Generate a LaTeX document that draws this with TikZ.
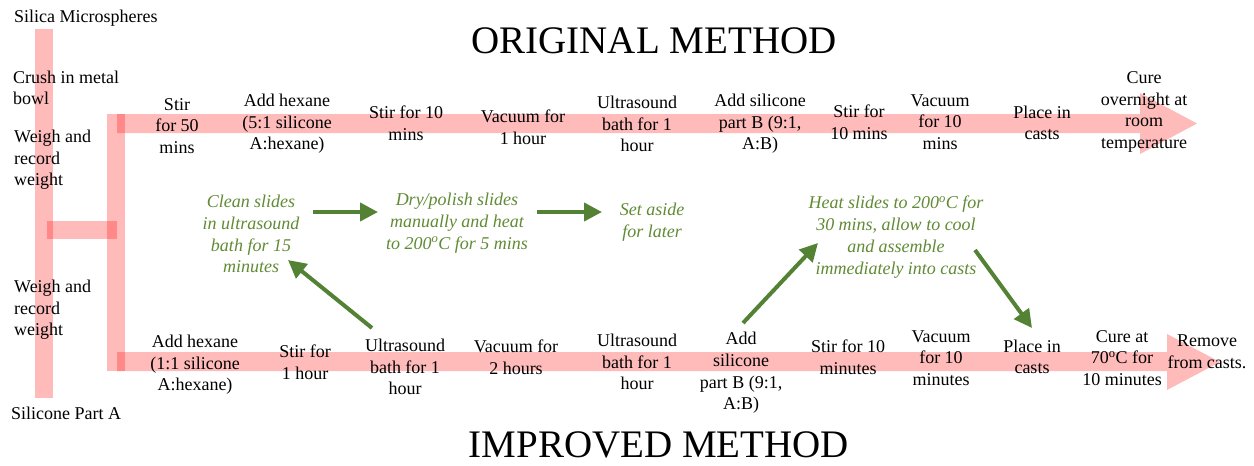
\documentclass[tikz,border=0pt]{standalone}
\usepackage{fontspec}
\setmainfont{Liberation Serif}
\usetikzlibrary{arrows.meta,calc}
\definecolor{gtext}{RGB}{96,138,52}
\definecolor{garr}{RGB}{84,130,53}
\begin{document}
\begin{tikzpicture}[x=1pt,y=-1pt,
  pinkbar/.style={fill=red,fill opacity=0.27},
  lbl/.style={align=center,inner sep=0pt,font=\fontsize{18}{21.6}\selectfont},
  lleft/.style={lbl,align=left,anchor=west},
  gnote/.style={lbl,text=gtext,font=\fontsize{18}{21.8}\selectfont\itshape},
  ttl/.style={inner sep=0pt,font=\fontsize{39}{44}\selectfont},
  garrow/.style={draw=garr,line width=4pt,-{Triangle[length=18pt,width=18pt]}}]
\useasboundingbox (0,0) rectangle (1254,466);

% pink process bars
\fill[pinkbar] (35,29) rectangle (53,398);
\fill[pinkbar] (47,221) rectangle (117,239);
\fill[pinkbar] (107,114) rectangle (125,371);
\fill[pinkbar] (117,114) -- (1140,114) -- (1140,93) -- (1197,123.5) -- (1140,154)
  -- (1140,133) -- (117,133) -- cycle;
\fill[pinkbar] (117,352) -- (1167,352) -- (1167,334) -- (1220,362) -- (1167,390)
  -- (1167,371) -- (117,371) -- cycle;

% titles
\node[ttl] (orig) at (654,41) {ORIGINAL METHOD};
\node[ttl] (impr) at (659,445) {IMPROVED METHOD};

% left column
\node[lleft] (silica) at (14,18) {Silica Microspheres};
\node[lleft] (crush) at (13,88) {Crush in metal\\bowl};
\node[lleft] (weighA) at (14,160) {Weigh and\\record\\weight};
\node[lleft] (weighB) at (14,310) {Weigh and\\record\\weight};
\node[lleft] (silA) at (11,413) {Silicone Part A};

% original method steps
\node[lbl] (stirA) at (177,126) {Stir\\for 50\\mins};
\node[lbl] (hexA) at (287,124) {Add hexane\\(5:1 silicone\\A:hexane)};
\node[lbl] (stirB) at (406,123) {Stir for 10\\mins};
\node[lbl] (vacA) at (523,127) {Vacuum for\\1 hour};
\node[lbl] (ultA) at (637,124) {Ultrasound\\bath for 1\\hour};
\node[lbl] (addA) at (760,124) {Add silicone\\part B (9:1,\\A:B)};
\node[lbl] (stirC) at (859,122) {Stir for\\10 mins};
\node[lbl] (vacB) at (940,122) {Vacuum\\for 10\\mins};
\node[lbl] (placeA) at (1042,123) {Place in\\casts};
\node[lbl] (cureA) at (1144,112) {Cure\\overnight at\\room\\temperature};

% improved method steps
\node[lbl] (hexB) at (195,365) {Add hexane\\(1:1 silicone\\A:hexane)};
\node[lbl] (stirD) at (305,362) {Stir for\\1 hour};
\node[lbl] (ultB) at (405,367) {Ultrasound\\bath for 1\\hour};
\node[lbl] (vacC) at (516,357) {Vacuum for\\2 hours};
\node[lbl] (ultC) at (637,362) {Ultrasound\\bath for 1\\hour};
\node[lbl] (addB) at (741,373) {Add\\silicone\\part B (9:1,\\A:B)};
\node[lbl] (stirE) at (848,357) {Stir for 10\\minutes};
\node[lbl] (vacD) at (941,358) {Vacuum\\for 10\\minutes};
\node[lbl] (placeB) at (1032,357) {Place in\\casts};
\node[lbl] (cureB) at (1122,358) {Cure at\\70\textsuperscript{o}C for\\10 minutes};
\node[lbl] (remove) at (1207,352) {Remove\\from casts.};

% slide preparation notes
\node[gnote] (clean) at (251,234) {Clean slides\\in ultrasound\\bath for 15\\minutes};
\node[gnote] (dry) at (457,223) {Dry/polish slides\\manually and heat\\to 200\textsuperscript{o}C for 5 mins};
\node[gnote] (aside) at (652,222) {Set aside\\for later};
\node[gnote] (heat) at (896,237) {Heat slides to 200\textsuperscript{o}C for\\30 mins, allow to cool\\and assemble\\immediately into casts};

% slide preparation arrows
\draw[garrow] ($(clean.center)+(62,-22)$) -- ($(dry.center)+(-79,-11)$);
\draw[garrow] ($(dry.center)+(80,-11)$) -- ($(aside.center)+(-50,-10)$);
\draw[garrow] ($(ultB.center)+(-33,-39)$) -- ($(clean.center)+(37,26)$);
\draw[garrow] ($(addB.center)+(2,-50)$) -- ($(heat.center)+(-78,6)$);
\draw[garrow] ($(heat.center)+(79,13)$) -- ($(placeB.center)+(0,-29)$);
\end{tikzpicture}
\end{document}
